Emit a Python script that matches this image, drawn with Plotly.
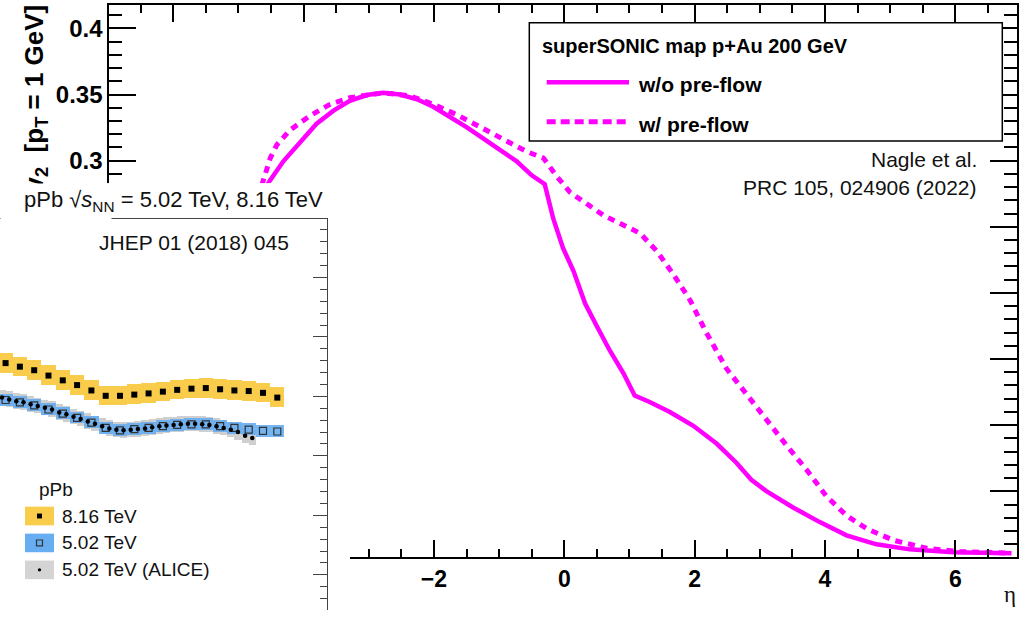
import plotly.graph_objects as go

W, H = 1019, 623

# ---- superSONIC p+Au 200 GeV, v2 at pT = 1 GeV vs eta ----
eta_wo = [-4.62, -4.52, -4.31, -4.05, -3.80, -3.54, -3.29, -3.03, -2.78, -2.52,
          -2.26, -2.01, -1.75, -1.50, -1.24, -0.99, -0.73, -0.50, -0.30, -0.17,
          -0.02, 0.14, 0.32, 0.50, 0.70, 0.91, 1.08, 1.31, 1.62, 1.98,
          2.34, 2.64, 2.87, 3.10, 3.51, 3.92, 4.33, 4.79, 5.30, 5.97, 6.86]
v2_wo = [0.276, 0.2847, 0.2995, 0.3143, 0.3279, 0.3378, 0.3452, 0.3496, 0.3513, 0.3500,
         0.3464, 0.3407, 0.3333, 0.3254, 0.3167, 0.3081, 0.2995, 0.2889, 0.2822, 0.2563,
         0.2340, 0.2167, 0.1920, 0.1748, 0.1563, 0.1390, 0.1224, 0.1175, 0.1100, 0.0995,
         0.0859, 0.0716, 0.0587, 0.0501, 0.0378, 0.0267, 0.0167, 0.0099, 0.0061, 0.0039, 0.0032]

eta_w = [-4.70, -4.62, -4.51, -4.41, -4.21, -3.90, -3.59, -3.29, -2.78, -2.37,
         -2.01, -1.65, -1.29, -0.94, -0.58, -0.32, -0.12, 0.09, 0.34, 0.60,
         0.96, 1.16, 1.42, 1.67, 1.93, 2.18, 2.49, 2.80, 3.10, 3.41,
         3.72, 4.02, 4.33, 4.64, 5.05, 5.56, 6.07, 6.86]
v2_w = [0.272, 0.286, 0.302, 0.312, 0.323, 0.334, 0.3427, 0.3476, 0.3513, 0.3490,
        0.3427, 0.3348, 0.3254, 0.3156, 0.3069, 0.3020, 0.2884, 0.2760, 0.2680, 0.2587,
        0.2500, 0.2452, 0.2316, 0.2143, 0.1945, 0.1699, 0.1427, 0.1230, 0.1044, 0.0847,
        0.0661, 0.0464, 0.0316, 0.0217, 0.0130, 0.0069, 0.0044, 0.0032]

# ---- CMS / ALICE pPb v2 vs eta (inset) ----
eta_cms = [-1.5, -1.3, -1.1, -0.9, -0.7, -0.5, -0.3, -0.1, 0.1, 0.3,
           0.5, 0.7, 0.9, 1.1, 1.3, 1.5, 1.7, 1.9, 2.1, 2.3]
v2_816 = [0.0756, 0.0750, 0.0744, 0.0735, 0.0727, 0.0719, 0.0710, 0.0701, 0.0701, 0.0703,
          0.0705, 0.0708, 0.0711, 0.0713, 0.0714, 0.0712, 0.0710, 0.0709, 0.0706, 0.0698]
v2_502 = [0.0694, 0.0690, 0.0685, 0.0678, 0.0671, 0.0664, 0.0656, 0.0647, 0.0643, 0.0645,
          0.0647, 0.0650, 0.0652, 0.0653, 0.0653, 0.0650, 0.0647, 0.0644, 0.0642, 0.0641]
syst_816 = 0.00165
syst_502 = 0.0010

eta_alice = [-1.55, -1.45, -1.35, -1.25, -1.15, -1.05, -0.95, -0.85, -0.75, -0.65,
             -0.55, -0.45, -0.35, -0.25, -0.15, -0.05, 0.05, 0.15, 0.25, 0.35,
             0.45, 0.55, 0.65, 0.75, 0.85, 0.95, 1.05, 1.15, 1.25, 1.35,
             1.45, 1.55, 1.65, 1.75, 1.85, 1.95]
v2_alice = [0.0698, 0.0695, 0.0692, 0.0690, 0.0687, 0.0684, 0.0681, 0.0678, 0.0673, 0.0670,
            0.0666, 0.0662, 0.0658, 0.0654, 0.0650, 0.0646, 0.0644, 0.0643, 0.0644, 0.0645,
            0.0646, 0.0648, 0.0650, 0.0651, 0.0652, 0.0653, 0.0654, 0.0654, 0.0653, 0.0652,
            0.0650, 0.0647, 0.0644, 0.0640, 0.0634, 0.0630]
syst_alice = 0.0013

MAGENTA = "#ff00ff"
YELLOW = "#f9cd4b"
BLUE = "#66adf2"
GREY = "#cfcfcf"


def px(x):
    return x / W


def py(y):
    return 1 - y / H


fig = go.Figure()

# main model curves
fig.add_trace(go.Scatter(x=eta_wo, y=v2_wo, mode="lines", xaxis="x", yaxis="y",
                         line=dict(color=MAGENTA, width=4.5)))
fig.add_trace(go.Scatter(x=eta_w, y=v2_w, mode="lines", xaxis="x", yaxis="y",
                         line=dict(color=MAGENTA, width=5, dash="7px,6px")))

# blank panel underneath the inset
fig.add_trace(go.Scatter(x=[], y=[], xaxis="x2", yaxis="y2"))

# inset: systematic boxes
fig.add_trace(go.Bar(x=eta_alice, y=[2 * syst_alice] * len(eta_alice),
                     base=[v - syst_alice for v in v2_alice], width=0.1,
                     marker=dict(color=GREY, line=dict(width=0)), xaxis="x3", yaxis="y3"))
fig.add_trace(go.Bar(x=eta_cms, y=[2 * syst_502] * len(eta_cms),
                     base=[v - syst_502 for v in v2_502], width=0.2,
                     marker=dict(color=BLUE, line=dict(width=0)), opacity=0.9,
                     xaxis="x3", yaxis="y3"))
fig.add_trace(go.Bar(x=eta_cms, y=[2 * syst_816] * len(eta_cms),
                     base=[v - syst_816 for v in v2_816], width=0.2,
                     marker=dict(color=YELLOW, line=dict(width=0)), xaxis="x3", yaxis="y3"))
# inset: points
fig.add_trace(go.Scatter(x=eta_cms, y=v2_816, mode="markers", xaxis="x3", yaxis="y3",
                         marker=dict(symbol="square", size=6, color="black")))
fig.add_trace(go.Scatter(x=eta_cms, y=v2_502, mode="markers", xaxis="x3", yaxis="y3",
                         marker=dict(symbol="square-open", size=7, color="#333",
                                     line=dict(width=1.2))))
fig.add_trace(go.Scatter(x=eta_alice, y=v2_alice, mode="markers", xaxis="x3", yaxis="y3",
                         marker=dict(symbol="circle", size=4.5, color="black")))

bold = dict(family="Liberation Sans, Arial, sans-serif", color="black", weight="bold")
regular = dict(family="Liberation Sans, Arial, sans-serif", color="#111")

fig.update_layout(
    width=W, height=H, margin=dict(l=0, r=0, t=0, b=0),
    paper_bgcolor="white", plot_bgcolor="white", showlegend=False,
    barmode="overlay", bargap=0,
    xaxis=dict(domain=[px(109.3), px(1017.3)], range=[-6.98, 6.95], anchor="y",
               tickmode="linear", tick0=0, dtick=2, ticks="inside", ticklen=17, tickwidth=2,
               tickcolor="black", showline=True, linewidth=2, linecolor="black", mirror="ticks",
               showgrid=False, zeroline=False, tickfont=dict(size=23, **bold),
               minor=dict(tick0=0, dtick=0.5, ticks="inside", ticklen=8.5, tickwidth=1.5,
                          tickcolor="black", showgrid=False)),
    yaxis=dict(domain=[py(569.3), py(4.7)], range=[0, 0.418], anchor="x",
               tickmode="linear", tick0=0, dtick=0.05, ticks="inside", ticklen=27, tickwidth=2,
               tickcolor="black", showline=True, linewidth=2, linecolor="black", mirror="ticks",
               showgrid=False, zeroline=False, tickfont=dict(size=24, **bold),
               minor=dict(tick0=0, dtick=0.01, ticks="inside", ticklen=13, tickwidth=1.5,
                          tickcolor="black", showgrid=False)),
    xaxis2=dict(domain=[0, px(350)], range=[0, 1], anchor="y2", visible=False),
    yaxis2=dict(domain=[0, py(187)], range=[0, 1], anchor="x2", visible=False),
    xaxis3=dict(domain=[0, px(327)], range=[-1.578, 2.995], anchor="y3", side="top",
                showline=True, linewidth=1, linecolor="#444", ticks="", showticklabels=False,
                showgrid=False, zeroline=False),
    yaxis3=dict(domain=[0, py(224)], range=[0.03409, 0.09977], anchor="x3", side="right",
                showline=True, linewidth=1, linecolor="#444", ticks="inside", ticklen=14,
                tickwidth=1, tickcolor="#444", tickmode="linear", tick0=0, dtick=0.01,
                showticklabels=False, showgrid=False, zeroline=False,
                minor=dict(tick0=0, dtick=0.002, ticks="inside", ticklen=7, tickwidth=1,
                           tickcolor="#444", showgrid=False)),
)

shapes = []
# model legend
shapes.append(dict(type="rect", xref="paper", yref="paper", x0=px(529.3), x1=px(1002.3),
                   y0=py(144), y1=py(23.3), line=dict(color="black", width=1.5),
                   fillcolor="white", layer="above"))
shapes.append(dict(type="line", xref="paper", yref="paper", x0=px(546.7), x1=px(629),
                   y0=py(84), y1=py(84), line=dict(color=MAGENTA, width=4.5), layer="above"))
shapes.append(dict(type="line", xref="paper", yref="paper", x0=px(546.7), x1=px(629),
                   y0=py(124.3), y1=py(124.3),
                   line=dict(color=MAGENTA, width=5, dash="9px,5px"), layer="above"))
# inset legend boxes
for yc, col in [(527, YELLOW), (554.5, BLUE), (582, "#d4d4d4")]:
    shapes.append(dict(type="rect", xref="paper", yref="paper", x0=px(25), x1=px(54),
                       y0=py(yc + 9.5), y1=py(yc - 9.5), line=dict(width=0),
                       fillcolor=col, layer="above"))
shapes.append(dict(type="rect", xref="paper", yref="paper", x0=px(37), x1=px(42),
                   y0=py(529.5), y1=py(524.5), line=dict(width=0), fillcolor="black",
                   layer="above"))
shapes.append(dict(type="rect", xref="paper", yref="paper", x0=px(36.5), x1=px(42.5),
                   y0=py(557.5), y1=py(551.5), line=dict(color="#333", width=1.2),
                   fillcolor="rgba(0,0,0,0)", layer="above"))
shapes.append(dict(type="circle", xref="paper", yref="paper", x0=px(37.8), x1=px(41.2),
                   y0=py(583.7), y1=py(580.3), line=dict(width=0), fillcolor="black",
                   layer="above"))
# bar of the square root over s_NN
shapes.append(dict(type="line", xref="paper", yref="paper", x0=px(71), x1=px(108),
                   y0=py(194), y1=py(194), line=dict(color="#444", width=1), layer="above"))
fig.update_layout(shapes=shapes)

ann = []


def text(x, y, s, size, font, xanchor="left", yanchor="middle", **kw):
    ann.append(dict(x=px(x), y=py(y), xref="paper", yref="paper", text=s, showarrow=False,
                    xanchor=xanchor, yanchor=yanchor, font=dict(size=size, **font), **kw))


# axis titles
text(35, 3, "v<sub>2</sub>  [p<sub>T</sub> = 1 GeV]", 26, bold, xanchor="center",
     yanchor="top", textangle=-90)
text(1010, 607, "η", 23, dict(family="Liberation Serif, serif", color="#111"),
     xanchor="center")
# white strip above the inset frame
ann.append(dict(x=0, y=py(187), xref="paper", yref="paper", text=" ", showarrow=False,
                xanchor="left", yanchor="top", width=110, height=36, borderpad=0,
                bgcolor="white"))

# model legend text
text(540, 46.7, "superSONIC map p+Au 200 GeV", 20, bold)
text(636, 86, "w/o pre-flow", 21, bold)
text(636, 126.7, "w/ pre-flow", 21, bold)
text(978.5, 163.3, "Nagle et al.", 21, regular, xanchor="right")
text(978.5, 191.7, "PRC 105, 024906 (2022)", 21, regular, xanchor="right")

# inset text
text(22, 205, "pPb √<i>s</i><sub>NN</sub> = 5.02 TeV, 8.16 TeV", 22, regular)
text(291, 248, "JHEP 01 (2018) 045", 21, regular, xanchor="right")
text(37, 500, "pPb", 19, regular)
text(60, 527, "8.16 TeV", 19, regular)
text(60, 554.5, "5.02 TeV", 19, regular)
text(60, 582, "5.02 TeV (ALICE)", 19, regular)

fig.update_layout(annotations=ann)
fig.write_html("out.html")
